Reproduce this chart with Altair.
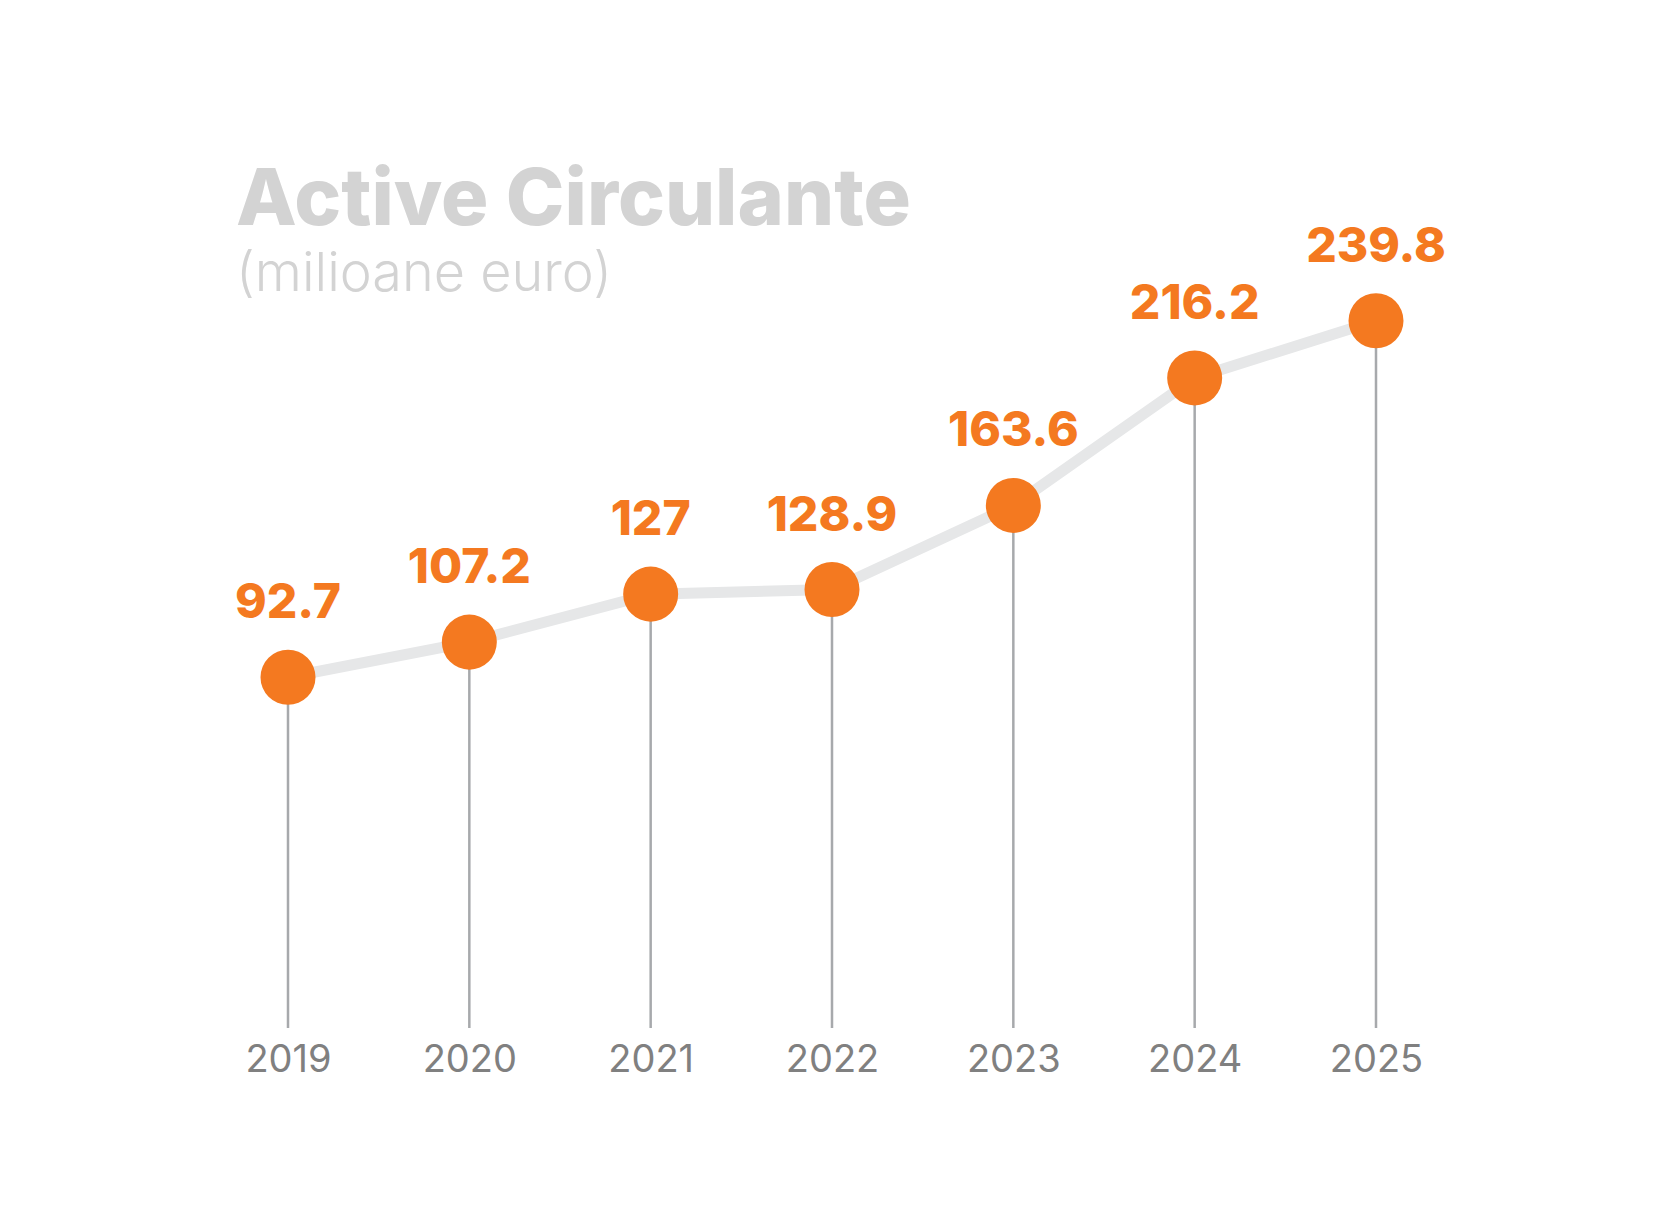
import altair as alt
import pandas as pd

# Current assets by year (million euro)
years = ["2019", "2020", "2021", "2022", "2023", "2024", "2025"]
values = [92.7, 107.2, 127, 128.9, 163.6, 216.2, 239.8]
labels = ["92.7", "107.2", "127", "128.9", "163.6", "216.2", "239.8"]

df = pd.DataFrame({"year": years, "value": values, "label": labels})

LEFT = 288
TOP = 296
W = 1088
H = 732
ORANGE = "#f47920"

x = alt.X(
    "year:O",
    sort=years,
    scale=alt.Scale(type="point", padding=0),
    axis=alt.Axis(
        title=None,
        domain=False,
        ticks=False,
        grid=False,
        labelAngle=0,
        labelFont="Inter",
        labelFontSize=38,
        labelFontWeight=400,
        labelColor="#808080",
        labelPadding=13,
    ),
)
y = alt.Y(
    "value:Q",
    scale=alt.Scale(domain=[-52, 250], nice=False, zero=False),
    axis=None,
)

base = alt.Chart(df).encode(x=x, y=y)

line = base.mark_line(color="#e6e7e8", strokeWidth=11)
stems = base.mark_rule(color="#a7a9ac", strokeWidth=2.5).encode(y2=alt.value(H))
dots = base.mark_circle(size=3025, color=ORANGE, opacity=1)
text = base.mark_text(
    dy=-59,
    baseline="alphabetic",
    align="center",
    font="Inter",
    fontSize=48,
    fontWeight=800,
    color=ORANGE,
).encode(text="label:N")

chart = (
    alt.layer(line, stems, dots, text)
    .properties(
        width=W,
        height=H,
        padding={"left": LEFT, "top": TOP, "right": 1663 - LEFT - W, "bottom": 1216 - TOP - H},
        autosize=alt.AutoSizeParams(type="none"),
        background="white",
        title=alt.TitleParams(
            text="Active Circulante",
            subtitle="(milioane euro)",
            anchor="start",
            frame="group",
            dx=-52,
            offset=-79,
            font="Inter",
            fontSize=79,
            fontWeight=800,
            color="#d3d3d3",
            subtitleFont="Inter",
            subtitleFontSize=54,
            subtitleFontWeight=300,
            subtitleColor="#d3d3d3",
            subtitlePadding=6,
        ),
    )
    .configure_view(stroke=None)
)

chart.save("out.html", embed_options={"renderer": "svg", "actions": False})
